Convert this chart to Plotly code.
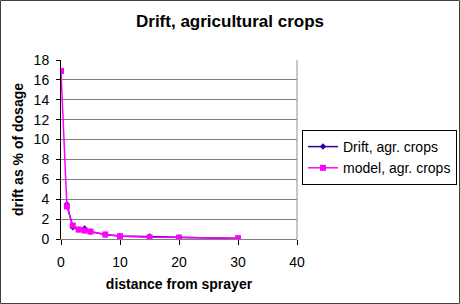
import plotly.graph_objects as go

# Data
drift_x = [1, 2, 3, 4, 5, 7.5, 10, 15, 20, 30]
drift_y = [3.5, 1.18, 0.95, 1.05, 0.72, 0.45, 0.3, 0.25, 0.14, 0.04]

model_x = [0, 1, 2, 3, 4, 5, 7.5, 10, 15, 20, 30]
model_y = [16.9, 3.27, 1.35, 0.95, 0.85, 0.75, 0.45, 0.28, 0.17, 0.14, 0.08]

x_ticks = [0, 10, 20, 30, 40]
y_ticks = [0, 2, 4, 6, 8, 10, 12, 14, 16, 18]

FONT = "Liberation Sans, Arial, sans-serif"

fig = go.Figure()
fig.add_trace(go.Scatter(
    x=drift_x, y=drift_y, mode="lines+markers", name="Drift, agr. crops",
    line=dict(color="#330099", width=1.5),
    marker=dict(symbol="diamond", size=5, color="#330099"),
))
fig.add_trace(go.Scatter(
    x=model_x, y=model_y, mode="lines+markers", name="model, agr. crops",
    line=dict(color="#FF00FF", width=1.5),
    marker=dict(symbol="square", size=6, color="#FF00FF"),
))

L, R, T, B = 61, 163, 60, 65
W, H = 460, 304
pw, ph = W - L - R, H - T - B

fig.update_layout(
    width=W, height=H,
    margin=dict(l=L, r=R, t=T, b=B, autoexpand=False),
    paper_bgcolor="white", plot_bgcolor="white",
    font=dict(family=FONT, size=14, color="black"),
    title=dict(text="<b>Drift, agricultural crops</b>", x=0.5, xref="container",
               xanchor="center", y=1 - 21 / H, yanchor="middle", yref="container",
               font=dict(size=17)),
    showlegend=True,
    legend=dict(x=(457 - L) / pw, y=(H - B - 130) / ph, xanchor="right", yanchor="top",
                bordercolor="#000000", borderwidth=1, bgcolor="white",
                font=dict(size=14), tracegroupgap=0, itemwidth=30),
    xaxis=dict(range=[0, 40], tickvals=x_ticks, ticks="outside", ticklen=5,
               tickcolor="black", showline=True, linecolor="#808080", linewidth=1,
               showgrid=False, zeroline=False, ticklabelstandoff=5,
               tickfont=dict(size=14),
               title=dict(text="<b>distance from sprayer</b>", standoff=10, font=dict(size=14))),
    yaxis=dict(range=[0, 18], tickvals=y_ticks, ticks="outside", ticklen=4,
               tickcolor="black", showline=True, linecolor="black", linewidth=1,
               showgrid=True, gridcolor="#808080", gridwidth=1, zeroline=False,
               ticklabelstandoff=4, tickfont=dict(size=14),
               title=dict(text="<b>drift as % of dosage</b>", standoff=6, font=dict(size=14))),
    shapes=[
        dict(type="line", xref="paper", yref="paper", x0=1, x1=1, y0=0, y1=1,
             line=dict(color="#909090", width=1)),
        dict(type="rect", xref="paper", yref="paper",
             x0=(0.5 - L) / pw, x1=(W - 0.5 - L) / pw,
             y0=(H - B - (H - 0.5)) / ph, y1=(H - B - 0.5) / ph,
             line=dict(color="#404040", width=1)),
    ],
)

fig.write_html("out.html")
